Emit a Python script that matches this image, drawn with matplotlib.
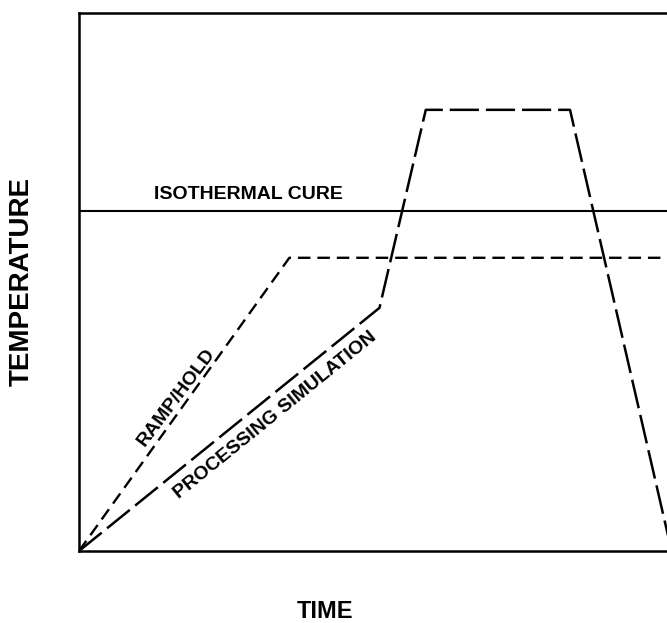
import matplotlib
matplotlib.use("Agg")
import matplotlib.pyplot as plt

plt.rcParams['lines.scale_dashes'] = False
plt.rcParams['font.family'] = ['Liberation Sans', 'DejaVu Sans']

# data (arbitrary units: time 0-100, temperature 0-100)
iso_time = [0, 100]
iso_temp = [63.2, 63.2]

ramp_time = [0, 35.0, 100]
ramp_temp = [0, 54.5, 54.5]

proc_time = [0, 50.0, 57.7, 81.7, 98.6]
proc_temp = [0, 45.2, 82.0, 82.0, 0]

fig = plt.figure(figsize=(6.67, 6.23), dpi=100)
ax = fig.add_axes([79/667, 72/623, 601/667, 538/623])
ax.set_xlim(0, 100)
ax.set_ylim(0, 100)

ax.plot(iso_time, iso_temp, color='black', lw=1.5, solid_capstyle='butt')
ax.plot(ramp_time, ramp_temp, color='black', lw=1.7, dashes=(9, 5), dash_capstyle='butt')
ax.plot(proc_time, proc_temp, color='black', lw=1.8, dashes=(21, 5), dash_capstyle='butt')

for s in ax.spines.values():
    s.set_linewidth(1.8)
ax.set_xticks([])
ax.set_yticks([])

ax.text(28.2, 64.6, 'ISOTHERMAL CURE', fontsize=14, fontweight='bold',
        ha='center', va='bottom')
ax.text(16.3, 28.5, 'RAMP/HOLD', fontsize=14, fontweight='bold',
        ha='center', va='center', rotation=53, rotation_mode='anchor')
ax.text(32.6, 25.3, 'PROCESSING SIMULATION', fontsize=14, fontweight='bold',
        ha='center', va='center', rotation=39, rotation_mode='anchor')

fig.text(325/667, 1 - 612/623, 'TIME', fontsize=17, fontweight='bold',
         ha='center', va='center')
fig.text(22/667, 1 - 281/623, 'TEMPERATURE', fontsize=20, fontweight='bold',
         ha='center', va='center', rotation=90)

fig.savefig('out.png', dpi=100)
